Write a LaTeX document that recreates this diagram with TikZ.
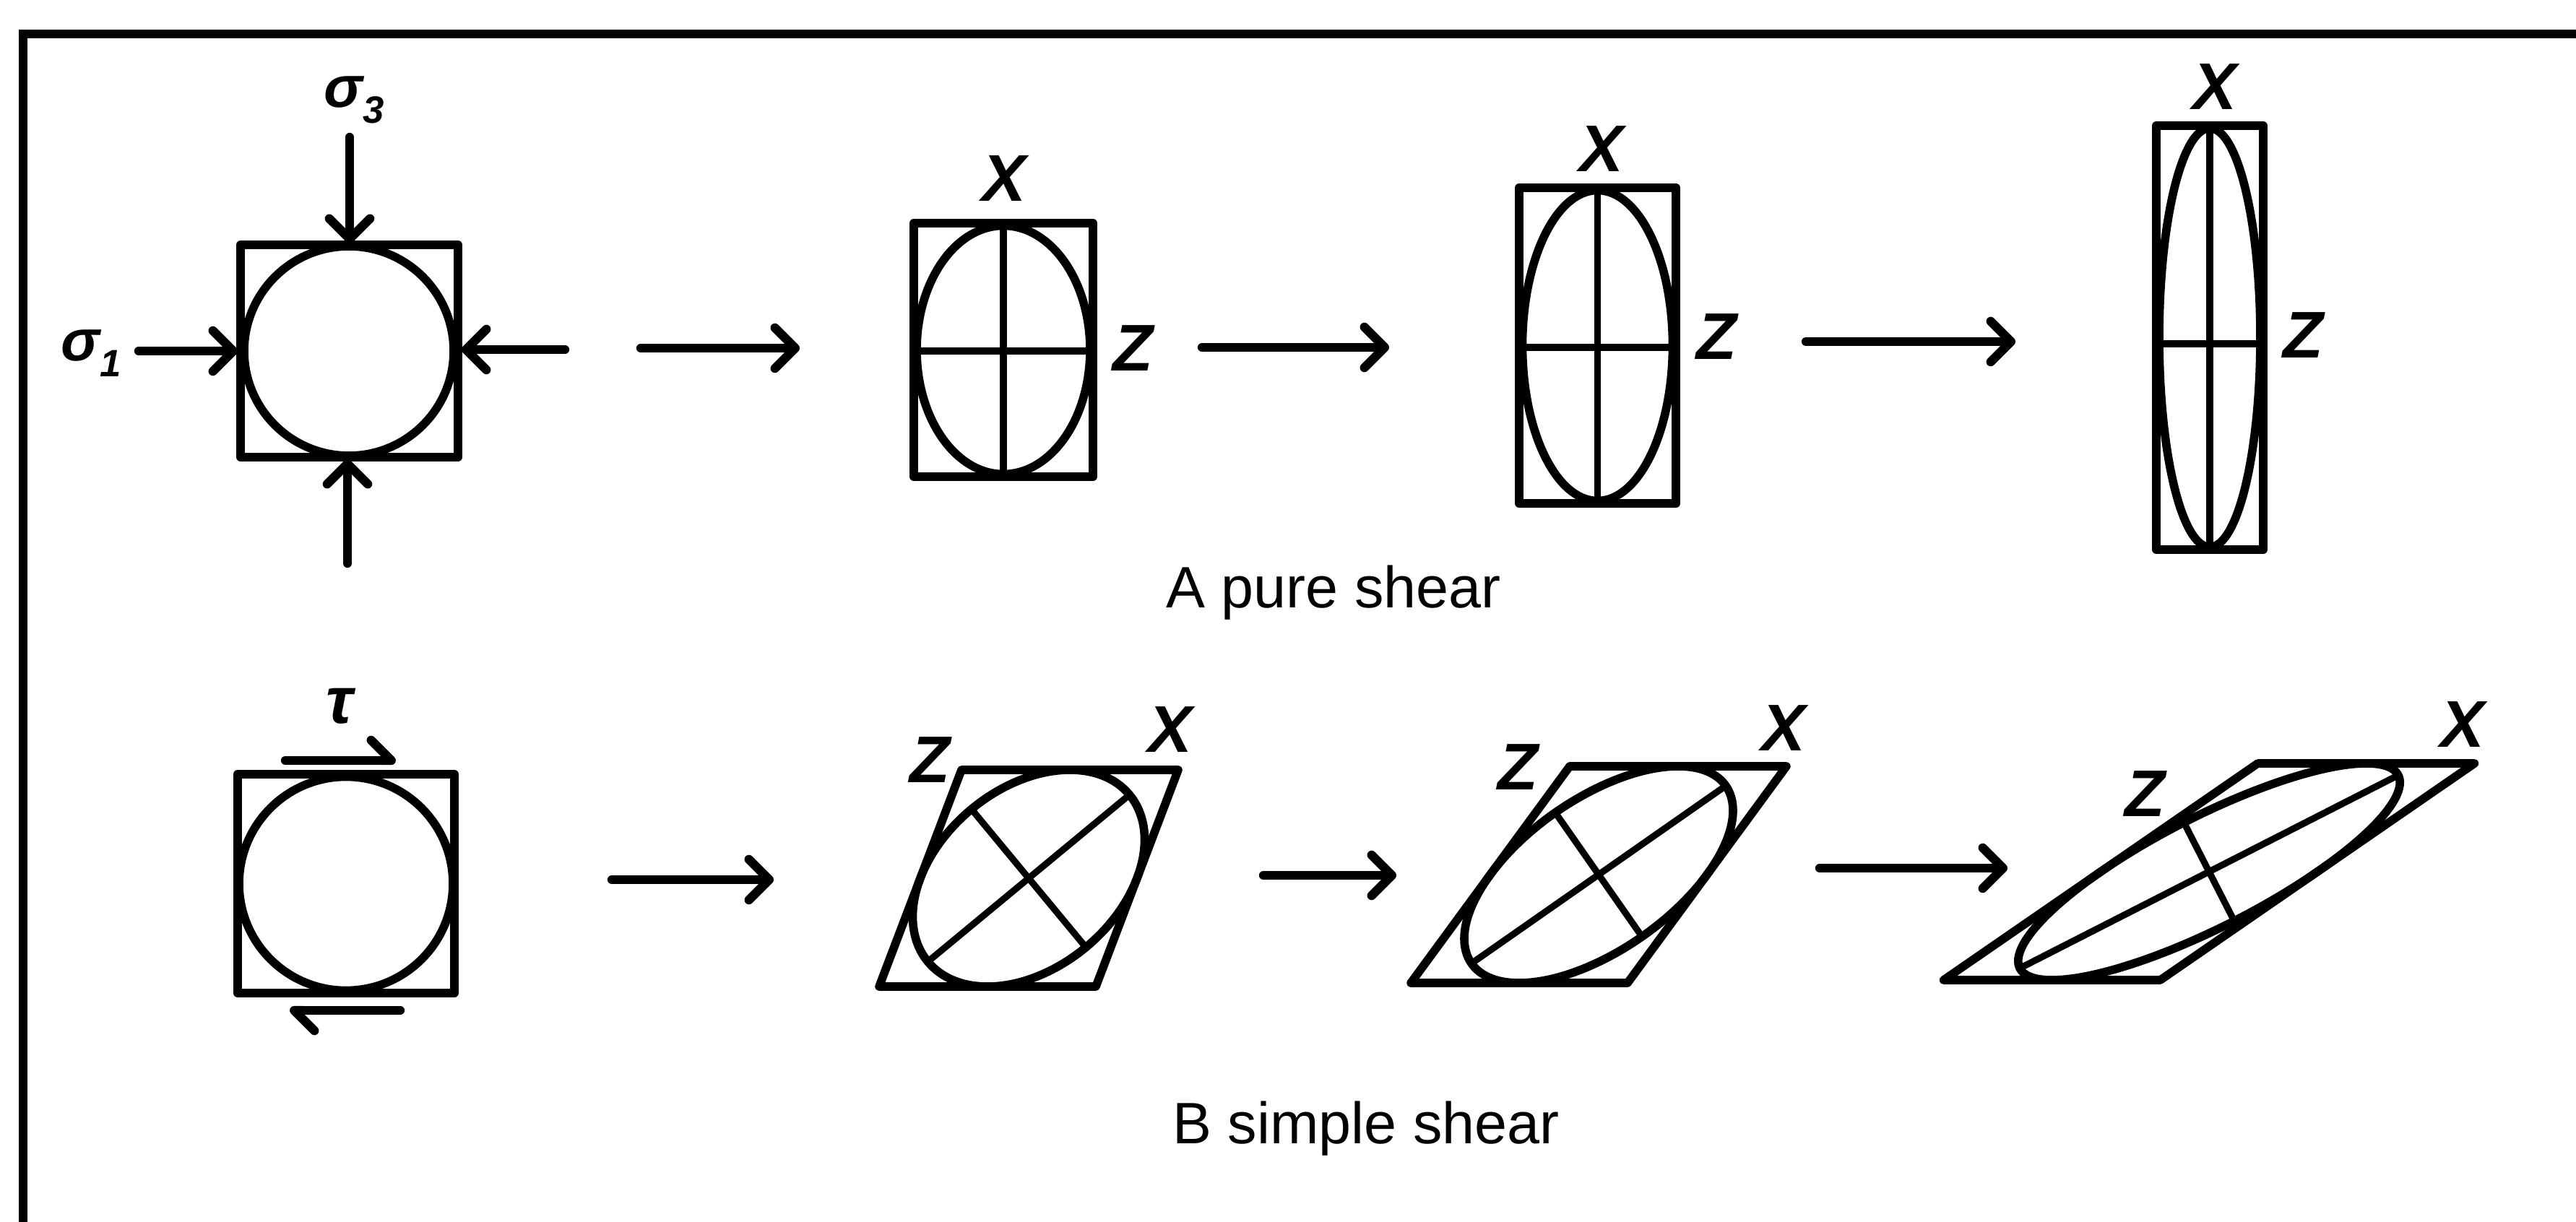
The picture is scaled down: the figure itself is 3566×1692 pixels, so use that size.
\documentclass[tikz,border=0pt]{standalone}
\usepackage{fontspec}
\setmainfont{Liberation Sans}
\usetikzlibrary{arrows.meta}
\begin{document}
\begin{tikzpicture}[x=0.01cm, y=-0.01cm,
  border/.style={line width=3.6pt, line join=miter},
  shp/.style={line width=3.3pt, line join=round},
  axisln/.style={line width=2.6pt},
  arr/.style={line width=3.5pt, line cap=round, -{Straight Barb[length=8pt,width=16pt,round]}},
  halfarr/.style={line width=3.5pt, line cap=round, -{Straight Barb[left,length=8pt,width=16pt,round]}},
  axlab/.style={inner sep=0pt, font=\fontsize{26}{26}\selectfont\bfseries\itshape},
  captxt/.style={inner sep=0pt, anchor=base, font=\fontsize{23}{27}\selectfont},
  greek/.style={inner sep=0pt, font=\fontsize{23}{23}\selectfont\bfseries\itshape}]
\useasboundingbox (0,0) rectangle (3566,1692);
\clip (0,0) rectangle (3566,1692);
% frame (only left and top edges visible)
\coordinate (fbl) at (32,1760);
\coordinate (ftl) at (32,47);
\coordinate (ftr) at (3640,47);
\draw[border] (fbl) -- (ftl) -- (ftr);

% ---------- Row A : pure shear ----------
% A1
\draw[shp] (333,339) rectangle (634,633);
\draw[shp] (483,486) circle[radius=145];
\node[greek, anchor=base west] (s3) at (448,149) {σ\raisebox{-6pt}{\fontsize{15}{15}\selectfont 3}};
\node[greek, anchor=base west] (s1) at (84,500) {σ\raisebox{-6pt}{\fontsize{15}{15}\selectfont 1}};
\coordinate (ta) at (484,190);  \coordinate (tb) at (484,337);
\coordinate (ba) at (481,780);  \coordinate (bb) at (481,636);
\coordinate (la) at (192,486);  \coordinate (lb) at (329,486);
\coordinate (ra) at (782,484);  \coordinate (rb) at (639,484);
\draw[arr] (ta) -- (tb);
\draw[arr] (ba) -- (bb);
\draw[arr] (la) -- (lb);
\draw[arr] (ra) -- (rb);

% A2
\draw[shp] (1265,309) rectangle (1513,660);
\draw[shp] (1389,484.5) ellipse[x radius=120, y radius=172];
\draw[axisln] (1389,312.5) -- (1389,656.5);
\draw[axisln] (1269,486) -- (1509,486);
\node[axlab] (xa2) at (1390,247) {X};
\node[axlab] (za2) at (1568,482) {Z};

% A3
\draw[shp] (2103,260) rectangle (2320,697);
\draw[shp] (2211.5,478.5) ellipse[x radius=104, y radius=215];
\draw[axisln] (2211.5,263.5) -- (2211.5,693.5);
\draw[axisln] (2107.5,481) -- (2315.5,481);
\node[axlab] (xa3) at (2217,206) {X};
\node[axlab] (za3) at (2376,466) {Z};

% A4
\draw[shp] (2985,174) rectangle (3133,761);
\draw[shp] (3059,467.5) ellipse[x radius=70, y radius=290];
\draw[axisln] (3059,178) -- (3059,757);
\draw[axisln] (2989,476) -- (3129,476);
\node[axlab] (xa4) at (3066,120) {X};
\node[axlab] (za4) at (3188,464) {Z};

% arrows between stages, row A
\coordinate (a1s) at (887,482);  \coordinate (a1e) at (1107,482);
\coordinate (a2s) at (1664,481); \coordinate (a2e) at (1923,481);
\coordinate (a3s) at (2500,473); \coordinate (a3e) at (2790,473);
\draw[arr] (a1s) -- (a1e);
\draw[arr] (a2s) -- (a2e);
\draw[arr] (a3s) -- (a3e);

\node[captxt] (capA) at (1846,842) {A pure shear};

% ---------- Row B : simple shear ----------
% B1
\draw[shp] (329,1072) rectangle (629,1375);
\draw[shp] (479,1223.5) circle[radius=148];
\node[greek, font=\fontsize{26}{26}\selectfont\bfseries\itshape] (tau) at (470,978) {τ};
\coordinate (hta) at (395,1053); \coordinate (htb) at (548,1053);
\coordinate (hba) at (554,1399); \coordinate (hbb) at (401,1399);
\draw[halfarr] (hta) -- (htb);
\draw[halfarr] (hba) -- (hbb);

% B2, B3, B4 : sheared squares with strain ellipses
\foreach \cx/\cy/\g in {1424/1216/0.38, 2213/1211/0.733, 3058/1207/1.45}{
  \pgfmathsetmacro\th{0.5*atan(2/\g)}
  \begin{scope}[shift={(\cx,\cy)}, cm={1,0,\g,1,(0,0)}]
    \draw[shp] (-150,-150) -- (150,-150) -- (150,150) -- (-150,150) -- cycle;
    \draw[shp] (0,0) circle[radius=150];
    \draw[axisln] ({150*sin(\th)},{-150*cos(\th)}) -- ({-150*sin(\th)},{150*cos(\th)});
    \draw[axisln] ({150*cos(\th)},{150*sin(\th)}) -- ({-150*cos(\th)},{-150*sin(\th)});
  \end{scope}
}
\node[axlab] (zb2) at (1287,1052) {Z};
\node[axlab] (xb2) at (1620,1010) {X};
\node[axlab] (zb3) at (2101,1062) {Z};
\node[axlab] (xb3) at (2469,1008) {X};
\node[axlab] (zb4) at (2969,1099) {Z};
\node[axlab] (xb4) at (3409,1003) {X};

% arrows between stages, row B
\coordinate (b1s) at (847,1218);  \coordinate (b1e) at (1071,1218);
\coordinate (b2s) at (1749,1212); \coordinate (b2e) at (1933,1212);
\coordinate (b3s) at (2519,1202); \coordinate (b3e) at (2779,1202);
\draw[arr] (b1s) -- (b1e);
\draw[arr] (b2s) -- (b2e);
\draw[arr] (b3s) -- (b3e);

\node[captxt] (capB) at (1891,1583) {B simple shear};
\end{tikzpicture}
\end{document}
